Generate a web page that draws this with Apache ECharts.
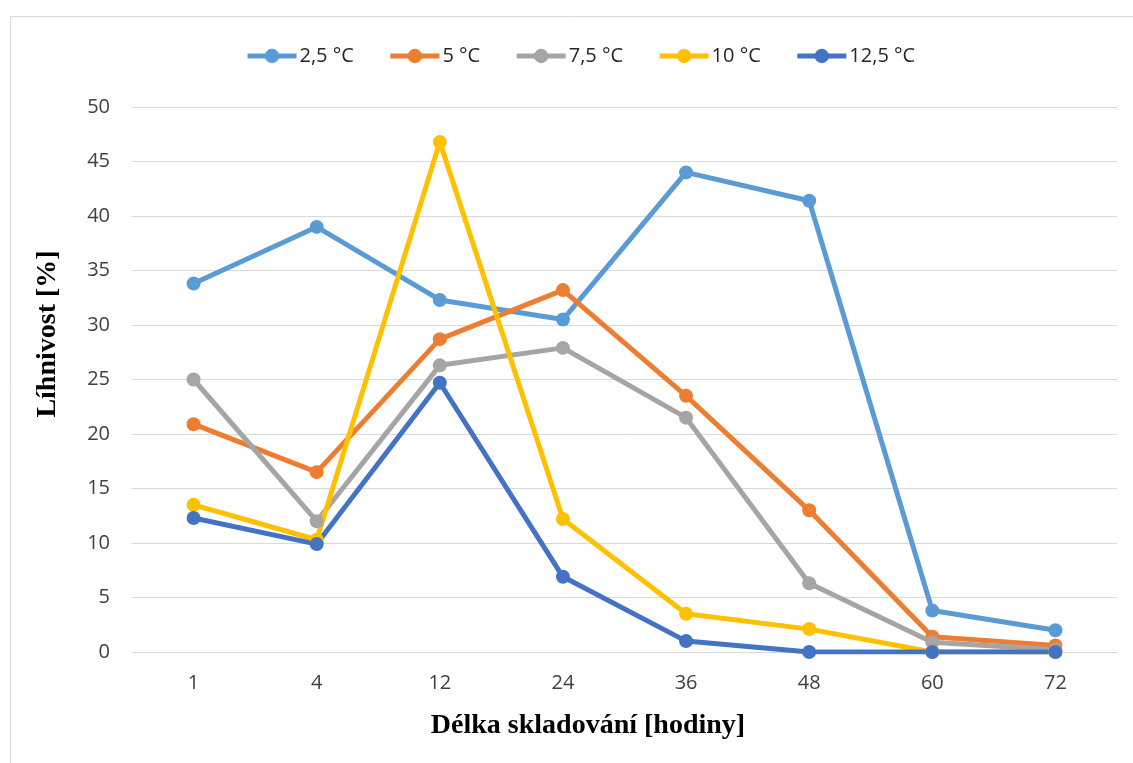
<!DOCTYPE html>
<html>
<head>
<meta charset="utf-8">
<script src="https://cdn.jsdelivr.net/npm/echarts@6/dist/echarts.min.js"></script>
<style>html,body{margin:0;padding:0;background:#fff}#c{width:1133px;height:763px}</style>
</head>
<body>
<div id="c"></div>
<script>
var categories = ['1', '4', '12', '24', '36', '48', '60', '72'];
var s25 = [33.8, 39.0, 32.3, 30.5, 44.0, 41.4, 3.8, 2.0];
var s5 = [20.9, 16.5, 28.7, 33.2, 23.5, 13.0, 1.4, 0.6];
var s75 = [25.0, 12.0, 26.3, 27.9, 21.5, 6.3, 0.9, 0.2];
var s10 = [13.5, 10.3, 46.8, 12.2, 3.5, 2.1, 0, 0];
var s125 = [12.3, 9.9, 24.7, 6.9, 1.0, 0, 0, 0];
var seriesNames = ['2,5 °C', '5 °C', '7,5 °C', '10 °C', '12,5 °C'];
var colors = ['#5B9BD5', '#ED7D31', '#A5A5A5', '#FFC000', '#4472C4'];
var allData = [s25, s5, s75, s10, s125];
var xTitle = 'Délka skladování [hodiny]';
var yTitle = 'Líhnivost [%]';

var chart = echarts.init(document.getElementById('c'), null, {renderer: 'canvas'});
chart.setOption({
  animation: false,
  backgroundColor: '#fff',
  color: colors,
  graphic: [{
    type: 'rect', silent: true,
    shape: {x: 10.5, y: 16.5, width: 1140, height: 760},
    style: {fill: 'none', stroke: '#d9d9d9', lineWidth: 1}
  }, {
    type: 'text', silent: true, x: 588, y: 726,
    style: {text: xTitle, align: 'center', verticalAlign: 'middle',
      font: 'bold 28px "Liberation Serif"', fill: '#000'}
  }, {
    type: 'text', silent: true, x: 48, y: 334, rotation: Math.PI / 2,
    style: {text: yTitle, align: 'center', verticalAlign: 'middle',
      font: 'bold 28px "Liberation Serif"', fill: '#000'}
  }],
  legend: {
    top: 41, left: 240,
    itemWidth: 49, itemHeight: 18, itemGap: 34,
    lineStyle: {width: 5},
    textStyle: {fontFamily: 'Open Sans', fontSize: 20, color: '#262626', padding: [0, 0, 0, -2]},
    data: seriesNames
  },
  grid: {left: 132, right: 16, top: 107, bottom: 111, containLabel: false},
  xAxis: {
    type: 'category', data: categories, boundaryGap: true,
    axisLine: {show: true, lineStyle: {color: '#d9d9d9', width: 1}},
    axisTick: {show: false},
    axisLabel: {fontFamily: 'Open Sans', fontSize: 20, color: '#404040', margin: 21}
  },
  yAxis: {
    type: 'value', min: 0, max: 50, interval: 5,
    axisLine: {show: false}, axisTick: {show: false},
    splitLine: {lineStyle: {color: '#d9d9d9', width: 1}},
    axisLabel: {fontFamily: 'Open Sans', fontSize: 20, color: '#404040', margin: 22}
  },
  series: seriesNames.map(function (n, i) {
    return {
      name: n, type: 'line', data: allData[i],
      symbol: 'circle', symbolSize: 14,
      lineStyle: {width: 5, color: colors[i]},
      itemStyle: {color: colors[i]}
    };
  })
});
</script>
</body>
</html>
